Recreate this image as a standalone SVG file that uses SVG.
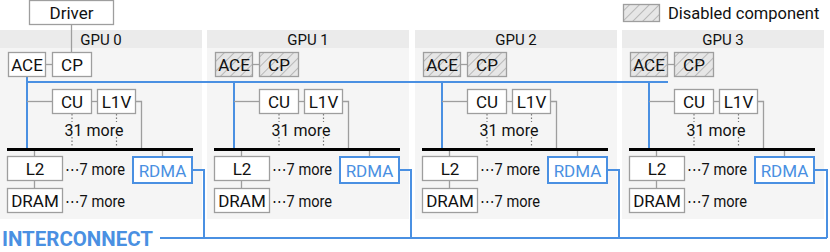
<svg xmlns="http://www.w3.org/2000/svg" width="830" height="252" viewBox="0 0 830 252">
<defs>
<pattern id="hatch" width="7" height="7" patternUnits="userSpaceOnUse" patternTransform="rotate(45)">
<rect width="7" height="7" fill="#e6e6e6"/>
<line x1="0" y1="0" x2="0" y2="7" stroke="#9a9a9a" stroke-width="1.2"/>
</pattern>
</defs>
<style>
text{font-family:Roboto,"Liberation Sans",sans-serif;font-size:16px;fill:#111;}
.c{text-anchor:middle;}
.lb{font-size:17px;}
.hdr{font-size:15px;}
.box{fill:#fff;stroke:#9e9e9e;stroke-width:1.3;}
.dis{fill:url(#hatch);stroke:#9e9e9e;stroke-width:1.3;}
.rdma{fill:#fff;stroke:#4a90e2;stroke-width:2;}
.blue{fill:#4a90e2;}
.g{fill:none;stroke:#9e9e9e;stroke-width:1.3;}
.dot{fill:none;stroke:#777;stroke-width:1.2;stroke-dasharray:1.5 2;}
.b{fill:none;stroke:#4a90e2;stroke-width:2;}
.bus{stroke:#000;stroke-width:3;}
.ic{font-size:20px;font-weight:bold;fill:#4a90e2;}
</style>

<!-- panels -->
<g id="gpu0" transform="translate(0,0)">
<rect x="0" y="30" width="202" height="189" fill="#f5f5f5"/><rect x="0" y="30" width="202" height="18" fill="#ebebeb"/>
<text class="c hdr" x="101" y="44.5">GPU 0</text></g>
<g id="gpu1" transform="translate(207,0)">
<rect x="0" y="30" width="202" height="189" fill="#f5f5f5"/><rect x="0" y="30" width="202" height="18" fill="#ebebeb"/>
<text class="c hdr" x="101" y="44.5">GPU 1</text></g>
<g id="gpu2" transform="translate(415,0)">
<rect x="0" y="30" width="202" height="189" fill="#f5f5f5"/><rect x="0" y="30" width="202" height="18" fill="#ebebeb"/>
<text class="c hdr" x="101" y="44.5">GPU 2</text></g>
<g id="gpu3" transform="translate(622,0)">
<rect x="0" y="30" width="202" height="189" fill="#f5f5f5"/><rect x="0" y="30" width="202" height="18" fill="#ebebeb"/>
<text class="c hdr" x="101" y="44.5">GPU 3</text></g>

<!-- connectors -->
<g id="connectors">
<line class="g" x1="71.5" y1="24.5" x2="71.5" y2="52.5"/>
<line class="b" x1="27" y1="82" x2="668" y2="82"/>
<line class="b" x1="160" y1="238" x2="827" y2="238"/>
<g transform="translate(0,0)">
<line class="b" x1="27" y1="76.5" x2="27" y2="148"/>
<line class="g" x1="45.5" y1="64.5" x2="52.5" y2="64.5"/>
<line class="g" x1="27" y1="101.5" x2="52.5" y2="101.5"/>
<line class="g" x1="91.5" y1="101.5" x2="97.5" y2="101.5"/>
<path class="g" d="M135.5,101.5H141.5V148"/>
<path class="dot" d="M72,114V122M72,137V146M116.5,114V122M116.5,137V146"/>
<path class="g" d="M34.5,151V156.5M34.5,180.5V188.5M162.5,151V157"/>
<line class="bus" x1="7" y1="149.5" x2="193" y2="149.5"/>
<path class="b" d="M192,170H204V238"/>
</g>
<g transform="translate(207,0)">
<line class="b" x1="27" y1="82" x2="27" y2="148"/>
<line class="g" x1="45.5" y1="64.5" x2="52.5" y2="64.5"/>
<line class="g" x1="27" y1="101.5" x2="52.5" y2="101.5"/>
<line class="g" x1="91.5" y1="101.5" x2="97.5" y2="101.5"/>
<path class="g" d="M135.5,101.5H141.5V148"/>
<path class="dot" d="M72,114V122M72,137V146M116.5,114V122M116.5,137V146"/>
<path class="g" d="M34.5,151V156.5M34.5,180.5V188.5M162.5,151V157"/>
<line class="bus" x1="7" y1="149.5" x2="193" y2="149.5"/>
<path class="b" d="M192,170H204V238"/>
</g>
<g transform="translate(415,0)">
<line class="b" x1="27" y1="82" x2="27" y2="148"/>
<line class="g" x1="45.5" y1="64.5" x2="52.5" y2="64.5"/>
<line class="g" x1="27" y1="101.5" x2="52.5" y2="101.5"/>
<line class="g" x1="91.5" y1="101.5" x2="97.5" y2="101.5"/>
<path class="g" d="M135.5,101.5H141.5V148"/>
<path class="dot" d="M72,114V122M72,137V146M116.5,114V122M116.5,137V146"/>
<path class="g" d="M34.5,151V156.5M34.5,180.5V188.5M162.5,151V157"/>
<line class="bus" x1="7" y1="149.5" x2="193" y2="149.5"/>
<path class="b" d="M192,170H204V238"/>
</g>
<g transform="translate(622,0)">
<line class="b" x1="27" y1="82" x2="27" y2="148"/>
<line class="g" x1="45.5" y1="64.5" x2="52.5" y2="64.5"/>
<line class="g" x1="27" y1="101.5" x2="52.5" y2="101.5"/>
<line class="g" x1="91.5" y1="101.5" x2="97.5" y2="101.5"/>
<path class="g" d="M135.5,101.5H141.5V148"/>
<path class="dot" d="M72,114V122M72,137V146M116.5,114V122M116.5,137V146"/>
<path class="g" d="M34.5,151V156.5M34.5,180.5V188.5M162.5,151V157"/>
<line class="bus" x1="7" y1="149.5" x2="193" y2="149.5"/>
<path class="b" d="M192,170H205V238"/>
</g>
</g>

<!-- driver & legend -->
<g id="driver"><rect class="box" x="29.5" y="0.5" width="84" height="24"/><text class="c lb" x="71.5" y="18.5">Driver</text></g>
<g id="legend"><rect class="dis" x="623.5" y="4.5" width="36" height="17"/><text x="668" y="19" style="font-size:16.5px">Disabled component</text></g>
<g id="interconnect"><text class="ic" x="2" y="246" textLength="151" lengthAdjust="spacingAndGlyphs">INTERCONNECT</text></g>

<!-- GPU 0 nodes -->
<g transform="translate(0,0)">
<g id="gpu0-ace"><rect class="box" x="8.5" y="52.5" width="37" height="24"/><text class="c lb" x="27" y="70.5">ACE</text></g>
<g id="gpu0-cp"><rect class="box" x="52.5" y="52.5" width="39" height="24"/><text class="c lb" x="72" y="70.5">CP</text></g>
<g id="gpu0-cu"><rect class="box" x="52.5" y="89.5" width="39" height="24"/><text class="c lb" x="72" y="107.5">CU</text><text class="c" x="94" y="135.5">31 more</text></g>
<g id="gpu0-l1v"><rect class="box" x="97.5" y="89.5" width="38" height="24"/><text class="c lb" x="116.5" y="107.5">L1V</text></g>
<g id="gpu0-l2"><rect class="box" x="7.5" y="156.5" width="55" height="24"/><text class="c lb" x="35" y="174.5">L2</text><text x="65" y="174.5" textLength="60" lengthAdjust="spacingAndGlyphs">⋯7 more</text></g>
<g id="gpu0-dram"><rect class="box" x="7.5" y="188.5" width="55" height="24"/><text class="c lb" x="35" y="206.5">DRAM</text><text x="65" y="206.5" textLength="60" lengthAdjust="spacingAndGlyphs">⋯7 more</text></g>
<g id="gpu0-rdma"><rect class="rdma" x="133" y="157" width="59" height="26"/><text class="c blue lb" x="162.5" y="176.5">RDMA</text></g>
</g>
<!-- GPU 1 nodes -->
<g transform="translate(207,0)">
<g id="gpu1-ace"><rect class="dis" x="8.5" y="52.5" width="37" height="24"/><text class="c lb" x="27" y="70.5">ACE</text></g>
<g id="gpu1-cp"><rect class="dis" x="52.5" y="52.5" width="39" height="24"/><text class="c lb" x="72" y="70.5">CP</text></g>
<g id="gpu1-cu"><rect class="box" x="52.5" y="89.5" width="39" height="24"/><text class="c lb" x="72" y="107.5">CU</text><text class="c" x="94" y="135.5">31 more</text></g>
<g id="gpu1-l1v"><rect class="box" x="97.5" y="89.5" width="38" height="24"/><text class="c lb" x="116.5" y="107.5">L1V</text></g>
<g id="gpu1-l2"><rect class="box" x="7.5" y="156.5" width="55" height="24"/><text class="c lb" x="35" y="174.5">L2</text><text x="65" y="174.5" textLength="60" lengthAdjust="spacingAndGlyphs">⋯7 more</text></g>
<g id="gpu1-dram"><rect class="box" x="7.5" y="188.5" width="55" height="24"/><text class="c lb" x="35" y="206.5">DRAM</text><text x="65" y="206.5" textLength="60" lengthAdjust="spacingAndGlyphs">⋯7 more</text></g>
<g id="gpu1-rdma"><rect class="rdma" x="133" y="157" width="59" height="26"/><text class="c blue lb" x="162.5" y="176.5">RDMA</text></g>
</g>
<!-- GPU 2 nodes -->
<g transform="translate(415,0)">
<g id="gpu2-ace"><rect class="dis" x="8.5" y="52.5" width="37" height="24"/><text class="c lb" x="27" y="70.5">ACE</text></g>
<g id="gpu2-cp"><rect class="dis" x="52.5" y="52.5" width="39" height="24"/><text class="c lb" x="72" y="70.5">CP</text></g>
<g id="gpu2-cu"><rect class="box" x="52.5" y="89.5" width="39" height="24"/><text class="c lb" x="72" y="107.5">CU</text><text class="c" x="94" y="135.5">31 more</text></g>
<g id="gpu2-l1v"><rect class="box" x="97.5" y="89.5" width="38" height="24"/><text class="c lb" x="116.5" y="107.5">L1V</text></g>
<g id="gpu2-l2"><rect class="box" x="7.5" y="156.5" width="55" height="24"/><text class="c lb" x="35" y="174.5">L2</text><text x="65" y="174.5" textLength="60" lengthAdjust="spacingAndGlyphs">⋯7 more</text></g>
<g id="gpu2-dram"><rect class="box" x="7.5" y="188.5" width="55" height="24"/><text class="c lb" x="35" y="206.5">DRAM</text><text x="65" y="206.5" textLength="60" lengthAdjust="spacingAndGlyphs">⋯7 more</text></g>
<g id="gpu2-rdma"><rect class="rdma" x="133" y="157" width="59" height="26"/><text class="c blue lb" x="162.5" y="176.5">RDMA</text></g>
</g>
<!-- GPU 3 nodes -->
<g transform="translate(622,0)">
<g id="gpu3-ace"><rect class="dis" x="8.5" y="52.5" width="37" height="24"/><text class="c lb" x="27" y="70.5">ACE</text></g>
<g id="gpu3-cp"><rect class="dis" x="52.5" y="52.5" width="39" height="24"/><text class="c lb" x="72" y="70.5">CP</text></g>
<g id="gpu3-cu"><rect class="box" x="52.5" y="89.5" width="39" height="24"/><text class="c lb" x="72" y="107.5">CU</text><text class="c" x="94" y="135.5">31 more</text></g>
<g id="gpu3-l1v"><rect class="box" x="97.5" y="89.5" width="38" height="24"/><text class="c lb" x="116.5" y="107.5">L1V</text></g>
<g id="gpu3-l2"><rect class="box" x="7.5" y="156.5" width="55" height="24"/><text class="c lb" x="35" y="174.5">L2</text><text x="65" y="174.5" textLength="60" lengthAdjust="spacingAndGlyphs">⋯7 more</text></g>
<g id="gpu3-dram"><rect class="box" x="7.5" y="188.5" width="55" height="24"/><text class="c lb" x="35" y="206.5">DRAM</text><text x="65" y="206.5" textLength="60" lengthAdjust="spacingAndGlyphs">⋯7 more</text></g>
<g id="gpu3-rdma"><rect class="rdma" x="133" y="157" width="59" height="26"/><text class="c blue lb" x="162.5" y="176.5">RDMA</text></g>
</g>
</svg>
